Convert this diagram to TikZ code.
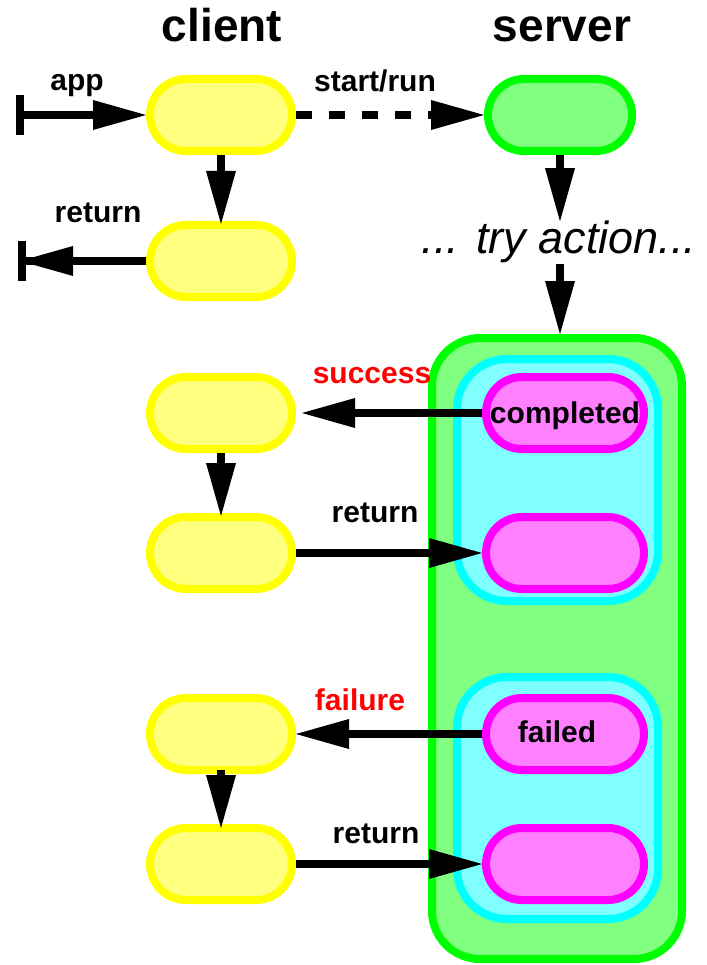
\documentclass[tikz,border=0pt]{standalone}
\usepackage{fontspec}
\setmainfont{Liberation Sans}
\usetikzlibrary{arrows.meta}
\definecolor{yelline}{HTML}{FFFF00}
\definecolor{yelfill}{HTML}{FFFF80}
\definecolor{grnline}{HTML}{00FF00}
\definecolor{grnfill}{HTML}{80FF80}
\definecolor{cyaline}{HTML}{00FFFF}
\definecolor{cyafill}{HTML}{80FFFF}
\definecolor{magline}{HTML}{FF00FF}
\definecolor{magfill}{HTML}{FF80FF}
\definecolor{redtxt}{HTML}{FF0000}
\tikzset{
  pill/.style={rectangle, rounded corners=36pt, line width=8pt, minimum height=72pt, inner sep=0pt},
  cnode/.style={pill, draw=yelline, fill=yelfill, minimum width=142pt},
  snode/.style={pill, draw=grnline, fill=grnfill, minimum width=144pt},
  mnode/.style={pill, draw=magline, fill=magfill, minimum width=158pt},
  cybox/.style={rectangle, rounded corners=50pt, line width=8pt, draw=cyaline, fill=cyafill, minimum width=201pt, minimum height=242pt, inner sep=0pt},
  bigbox/.style={rectangle, rounded corners=48pt, line width=8pt, draw=grnline, fill=grnfill, minimum width=250pt, minimum height=621pt, inner sep=0pt},
  tipA/.tip={Triangle[length=53pt,width=30pt,line width=0pt]},
  arr/.style={line width=8pt, -tipA},
  lbl/.style={font=\fontsize{30}{36}\selectfont\bfseries, inner sep=0pt, anchor=base},
  ttl/.style={font=\fontsize{46}{54}\selectfont\bfseries, inner sep=0pt, anchor=base},
}
\begin{document}
\begin{tikzpicture}[x=1pt,y=-1pt]
\useasboundingbox (0,0) rectangle (706,965);
% container
\node[bigbox] (box) at (557,648.5) {};
\node[cybox] (cy1) at (557.5,480) {};
\node[cybox] (cy2) at (557.5,798) {};
\node[mnode] (m1) at (565,413) {};
\node[mnode] (m2) at (565,553) {};
\node[mnode] (m3) at (565,734) {};
\node[mnode] (m4) at (565,864) {};
% client nodes
\node[cnode] (c1) at (221,115) {};
\node[cnode] (c2) at (221,261) {};
\node[cnode] (c3) at (221,413) {};
\node[cnode] (c4) at (221,553) {};
\node[cnode] (c5) at (221,734) {};
\node[cnode] (c6) at (221,864) {};
\node[snode] (s1) at (560,115) {};
% titles and labels
\node[ttl] (tclient) at (222,42) {client};
\node[ttl] (tserver) at (562,42) {server};
\node[lbl] (lapp) at (77,91) {app};
\node[lbl] (lstart) at (375,92) {start/run};
\node[lbl] (lret1) at (98,223) {return};
\node[font=\fontsize{45}{52}\selectfont\itshape, inner sep=0pt, anchor=base] (try) at (559,254) {... try action...};
\node[lbl, text=redtxt] (lsucc) at (372,383) {success};
\node[lbl] (lret2) at (375,522) {return};
\node[lbl, text=redtxt] (lfail) at (360,710) {failure};
\node[lbl] (lret3) at (376,843) {return};
% coordinates for free ends
\coordinate (appstart) at (16,115);
\coordinate (retend) at (18,261);
% connectors
\draw[line width=8pt, {Bar[width=40pt]}-tipA] (appstart) -- (c1.west);
\draw[line width=8pt, dash pattern=on 16pt off 17pt, -tipA] (c1.east) -- (s1.west);
\draw[arr, shorten >=-3pt] (c1.south) -- (c2.north);
\draw[line width=8pt, -{Triangle[length=53pt,width=30pt,line width=0pt,sep=-6pt] Bar[width=40pt]}] (c2.west) -- (retend);
\draw[arr] (s1.south) -- (try.north -| s1.south);
\draw[arr] (try.south -| s1.south) -- (box.north -| s1.south);
\draw[arr, shorten >=6pt] (m1.west) -- (c3.east);
\draw[arr, shorten >=-3pt] (c3.south) -- (c4.north);
\draw[arr] (c4.east) -- (m2.west);
\draw[arr] (m3.west) -- (c5.east);
\draw[arr, shorten >=-4pt, shorten <=-4pt] (c5.south) -- (c6.north);
\draw[arr] (c6.east) -- (m4.west);
% node texts
\node[lbl] (tcomp) at (565,423) {completed};
\node[lbl] (tfail) at (557,742) {failed};
\end{tikzpicture}
\end{document}
